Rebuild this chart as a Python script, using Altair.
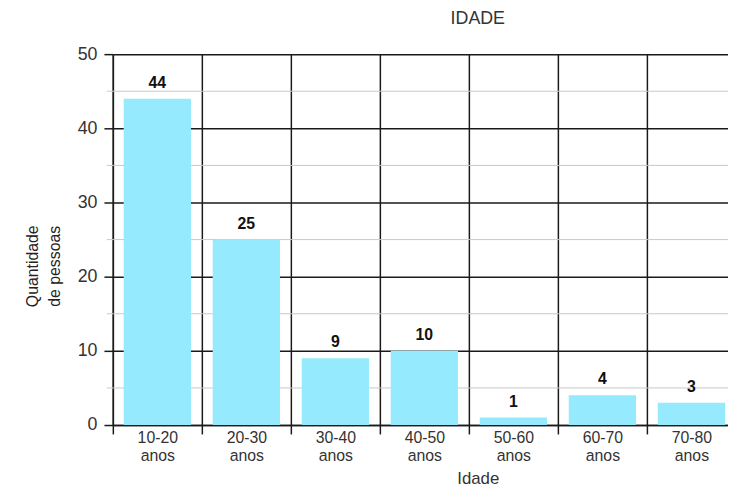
import altair as alt
import pandas as pd

categorias = ["10-20 anos", "20-30 anos", "30-40 anos", "40-50 anos",
              "50-60 anos", "60-70 anos", "70-80 anos"]
quantidades = [44, 25, 9, 10, 1, 4, 3]
grade_menor = [5, 15, 25, 35, 45]

df = pd.DataFrame({"Idade": categorias, "Quantidade": quantidades})
df["pos"] = range(len(categorias))
df_minor = pd.DataFrame({"Quantidade": grade_menor})

FONT = "Liberation Sans"
STEP = 90
W = 622
H = 375
BAR_PAD = 0.122

xscale = alt.Scale(domain=[0, W / STEP], nice=False, zero=False)
yscale = alt.Scale(domain=[0, 50], nice=False)

cat_js = "[" + ",".join("'" + c + "'" for c in categorias) + "]"
xvals = [k * 0.5 for k in range(2 * len(categorias))]
is_int = "datum.value % 1 == 0"

xaxis = alt.Axis(
    title="Idade", titleX=369, titleY=46,
    values=xvals, labelOverlap=False, labelFlush=False, labelBound=False,
    labelExpr=f"datum.value % 1 == 0 ? '' : split({cat_js}[floor(datum.value)], ' ')",
    grid=True,
    gridColor=alt.ConditionalAxisColor(condition={"test": is_int, "value": "#1a1a1a"}, value=None),
    gridWidth=1.5, gridOpacity=1,
    domainColor="#1a1a1a", domainWidth=1.5,
    tickColor=alt.ConditionalAxisColor(condition={"test": is_int, "value": "#1a1a1a"}, value=None),
    tickWidth=1.5, tickSize=9,
    labelAngle=0, labelPadding=-4, labelLineHeight=18,
    labelFontSize=16, labelColor="#333333", labelFont=FONT,
    titleFont=FONT, titleFontSize=17, titleFontWeight="normal", titleColor="#333333",
)

yaxis = alt.Axis(values=[0, 10, 20, 30, 40, 50], title=["Quantidade", "de pessoas"],
                 titleX=-81, titleY=214, titleAngle=-90, titleAlign="center",
                 titleBaseline="middle", titleLineHeight=22,
                 titleFont=FONT, titleFontSize=16, titleFontWeight="normal",
                 titleColor="#222222",
                 grid=True, gridColor="#1a1a1a", gridWidth=1.5, gridOpacity=1,
                 domainColor="#1a1a1a", domainWidth=1.5,
                 tickColor="#1a1a1a", tickWidth=1.5, tickSize=9,
                 labelFontSize=18, labelColor="#333333", labelFont=FONT,
                 labelPadding=7)

minor = alt.Chart(df_minor).mark_rule(color="#c8c8c8", strokeWidth=1).encode(
    y=alt.Y("Quantidade:Q", scale=yscale, axis=yaxis),
    x=alt.value(-6),
    x2=alt.value(W),
)

base = alt.Chart(df).transform_calculate(
    x0=f"datum.pos + {BAR_PAD}",
    x1=f"datum.pos + 1 - {BAR_PAD}",
    xm="datum.pos + 0.5",
)

bars = base.mark_bar(color="#95EBFD").encode(
    x=alt.X("x0:Q", scale=xscale, axis=xaxis),
    x2="x1:Q",
    y=alt.Y("Quantidade:Q", scale=yscale, axis=yaxis),
    y2=alt.datum(0),
)

labels = base.mark_text(baseline="bottom", dy=-8, fontSize=16, fontWeight="bold",
                        font=FONT, color="#111111").encode(
    x=alt.X("xm:Q", scale=xscale),
    y=alt.Y("Quantidade:Q", scale=yscale),
    text="Quantidade:Q",
)

chart = alt.layer(minor, bars, labels).properties(
    width=W, height=H,
    title=alt.TitleParams("IDADE", anchor="middle", dx=58, offset=17,
                          font=FONT, fontSize=18, fontWeight="normal", color="#333333"),
    autosize=alt.AutoSizeParams(type="none"),
    padding={"left": 106, "top": 44, "right": 0, "bottom": 60},
).configure_view(stroke=None).configure(background="white")

chart.save("out.html", embed_options={"renderer": "svg", "actions": False})
